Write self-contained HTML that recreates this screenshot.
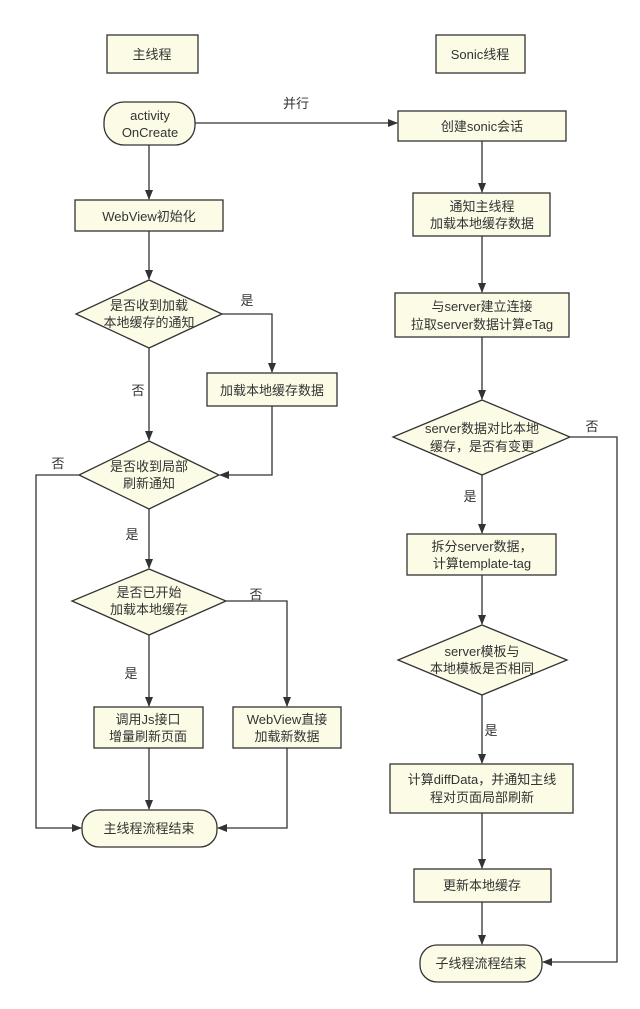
<!DOCTYPE html>
<html><head><meta charset="utf-8"><style>
html,body{margin:0;padding:0;background:#fff;}
svg text{font-family:"Liberation Sans","Noto Sans CJK SC",sans-serif;font-size:13px;fill:#333;text-anchor:middle;}
</style></head><body>
<svg width="640" height="1004" viewBox="0 0 640 1004" xmlns="http://www.w3.org/2000/svg">
<defs><marker id="a" markerWidth="10" markerHeight="10" refX="9" refY="5" orient="auto" markerUnits="userSpaceOnUse"><path d="M0,1 L10,5 L0,9 Z" fill="#333"/></marker></defs>
<g fill="#fbfbe6" stroke="#333" stroke-width="1.3">
<rect x="107" y="35" width="91" height="38"/>
<rect x="436" y="35" width="89" height="38"/>
<rect x="104" y="102" width="91" height="43" rx="20"/>
<rect x="75" y="200" width="148" height="31"/>
<polygon points="149,280 222,314 149,348 76,314"/>
<rect x="207" y="373" width="130" height="33"/>
<polygon points="149,441 219,475 149,509 79,475"/>
<polygon points="149,569 226,601 149,635 72,601"/>
<rect x="94" y="707" width="109" height="41"/>
<rect x="233" y="707" width="108" height="41"/>
<rect x="82" y="810" width="135" height="37" rx="17"/>
<rect x="398" y="111" width="168" height="30"/>
<rect x="413" y="193" width="137" height="43"/>
<rect x="395" y="293" width="174" height="44"/>
<polygon points="482,400 570,437 482,475 393,437"/>
<rect x="407" y="534" width="149" height="41"/>
<polygon points="482,625 567,660 482,695 398,660"/>
<rect x="390" y="764" width="183" height="49"/>
<rect x="414" y="869" width="137" height="33"/>
<rect x="420" y="945" width="122" height="37" rx="17"/>
</g>
<g fill="none" stroke="#333" stroke-width="1.3" marker-end="url(#a)">
<path d="M195,123 H397"/>
<path d="M149,145 V199"/>
<path d="M149,231 V279"/>
<path d="M222,314 H272 V372"/>
<path d="M149,348 V440"/>
<path d="M272,406 V475 H220"/>
<path d="M79,475 H36 V828 H81"/>
<path d="M149,509 V568"/>
<path d="M226,601 H287 V706"/>
<path d="M149,635 V706"/>
<path d="M149,748 V809"/>
<path d="M287,748 V828 H218"/>
<path d="M482,141 V192"/>
<path d="M482,236 V292"/>
<path d="M482,337 V399"/>
<path d="M570,437 H617 V962 H543"/>
<path d="M482,475 V533"/>
<path d="M482,575 V624"/>
<path d="M482,695 V763"/>
<path d="M482,813 V868"/>
<path d="M482,902 V944"/>
</g>
<text x="152" y="59">主线程</text>
<text x="480" y="59">Sonic线程</text>
<text x="150" y="120">activity</text>
<text x="150" y="137">OnCreate</text>
<text x="149" y="221">WebView初始化</text>
<text x="149" y="310">是否收到加载</text>
<text x="149" y="327">本地缓存的通知</text>
<text x="272" y="395">加载本地缓存数据</text>
<text x="149" y="471">是否收到局部</text>
<text x="149" y="488">刷新通知</text>
<text x="149" y="597">是否已开始</text>
<text x="149" y="614">加载本地缓存</text>
<text x="148" y="724">调用Js接口</text>
<text x="148" y="741">增量刷新页面</text>
<text x="287" y="724">WebView直接</text>
<text x="287" y="741">加载新数据</text>
<text x="149" y="833">主线程流程结束</text>
<text x="482" y="131">创建sonic会话</text>
<text x="482" y="211">通知主线程</text>
<text x="482" y="228">加载本地缓存数据</text>
<text x="482" y="311">与server建立连接</text>
<text x="482" y="329">拉取server数据计算eTag</text>
<text x="482" y="433">server数据对比本地</text>
<text x="482" y="451">缓存，是否有变更</text>
<text x="482" y="551">拆分server数据，</text>
<text x="482" y="568">计算template-tag</text>
<text x="482" y="656">server模板与</text>
<text x="482" y="673">本地模板是否相同</text>
<text x="482" y="784">计算diffData，并通知主线</text>
<text x="482" y="802">程对页面局部刷新</text>
<text x="482" y="890">更新本地缓存</text>
<text x="481" y="968">子线程流程结束</text>
<text x="296" y="108">并行</text>
<text x="247" y="305">是</text>
<text x="138" y="395">否</text>
<text x="58" y="468">否</text>
<text x="132" y="539">是</text>
<text x="256" y="599">否</text>
<text x="131" y="678">是</text>
<text x="470" y="501">是</text>
<text x="592" y="431">否</text>
<text x="491" y="735">是</text>
</svg>
</body></html>
